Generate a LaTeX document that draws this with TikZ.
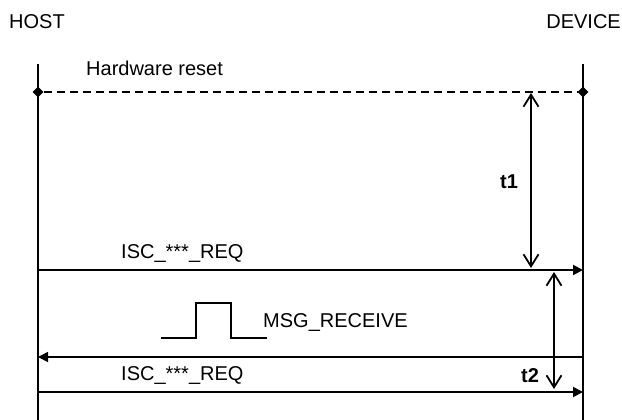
\documentclass[tikz,border=0pt]{standalone}
\usepackage{fontspec}
\setmainfont{Liberation Sans}
\usepackage{tikz}
\usetikzlibrary{shapes.geometric, arrows.meta}
\tikzstyle{msgtext} = [
	inner sep=0pt,
	anchor=base west,
	font=\fontsize{20}{24}\selectfont
]
\tikzstyle{lifeline} = [
	line width=1.2pt,
	draw=black
]
\tikzstyle{marker} = [
	diamond,
	fill=black,
	inner sep=0pt,
	minimum size=11pt
]
\tikzstyle{arrow} = [line width=2pt, -{Triangle[length=10pt, width=10pt]}]
\tikzstyle{timearrow} = [
	line width=1.8pt,
	{Straight Barb[length=12pt, width=15pt]}-{Straight Barb[length=12pt, width=15pt]}
]

\begin{document}
\begin{tikzpicture}[x=1pt, y=-1pt]
        \useasboundingbox (0,0) rectangle (622,420);
        \node (host) [msgtext] at (9,29) {HOST};
        \node (device) [msgtext, anchor=base east] at (621,29) {DEVICE};
        \coordinate (htop) at (38,64);
        \coordinate (hbot) at (38,420);
        \coordinate (dtop) at (583,64);
        \coordinate (dbot) at (583,420);
        \draw [lifeline] (htop) -- (hbot);
        \draw [lifeline] (dtop) -- (dbot);
        % reset line
        \node (reset) [msgtext] at (86,76) {Hardware reset};
        \node (hreset) [marker] at (38,92) {};
        \node (dreset) [marker] at (583,92) {};
        \draw [line width=2pt, dash pattern=on 8pt off 5pt] (hreset) -- (dreset);
        % messages
        \coordinate (hreq1) at (38,270);
        \coordinate (dreq1) at (583,270);
        \coordinate (hrcv) at (38,357);
        \coordinate (drcv) at (583,357);
        \coordinate (hreq2) at (38,392);
        \coordinate (dreq2) at (583,392);
        \draw [arrow] (hreq1) -- (dreq1);
        \draw [arrow, line width=1.6pt] (drcv) -- (hrcv);
        \draw [arrow] (hreq2) -- (dreq2);
        \node (req1) [msgtext] at (121,258) {ISC\_***\_REQ};
        \node (req2) [msgtext] at (121,380) {ISC\_***\_REQ};
        % pulse
        \draw [line width=1.3pt] (161,338) -- (196,338) -- (196,303) -- (231,303) -- (231,338) -- (267,338);
        \node (rcv) [msgtext] at (263,327) {MSG\_RECEIVE};
        % timings
        \coordinate (t1top) at (531,93);
        \coordinate (t1bot) at (531,268);
        \coordinate (t2top) at (554,272);
        \coordinate (t2bot) at (554,389);
        \draw [timearrow] (t1top) -- (t1bot);
        \draw [timearrow] (t2top) -- (t2bot);
        \node (t1) [msgtext, font=\fontsize{20}{24}\selectfont\bfseries] at (500,188) {t1};
        \node (t2) [msgtext, font=\fontsize{20}{24}\selectfont\bfseries] at (521,382) {t2};
      \end{tikzpicture}
\end{document}
